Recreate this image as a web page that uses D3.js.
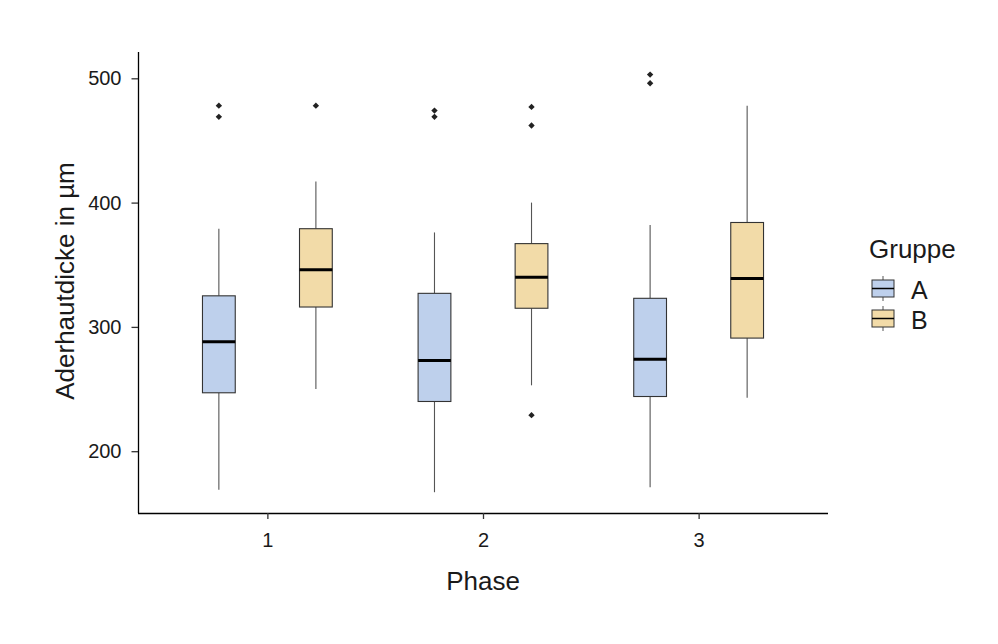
<!DOCTYPE html>
<html>
<head>
<meta charset="utf-8">
<script src="https://cdn.jsdelivr.net/npm/d3@7"></script>
<style>
  body { margin: 0; background: #fff; }
  text { font-family: "Liberation Sans", Arial, sans-serif; }
</style>
</head>
<body>
<div id="chart"></div>
<script>
// values
const phases = ['1', '2', '3'];
const groups = ['A', 'B'];
const colors = ['#bed0ec', '#f2dba8'];
const yTicks = [200, 300, 400, 500];

// [phase, group, lowerWhisker, q1, median, q3, upperWhisker]
const boxStats = [
	['1', 'A', 169, 247, 288, 325, 379],
	['1', 'B', 250, 316, 346, 379, 417],
	['2', 'A', 167, 240, 273, 327, 376],
	['2', 'B', 253, 315, 340, 367, 400],
	['3', 'A', 171, 244, 274, 323, 382],
	['3', 'B', 243, 291, 339, 384, 478]
];

// [phase, group, value]
const outliers = [
	['1', 'A', 478], ['1', 'A', 469],
	['1', 'B', 478],
	['2', 'A', 474], ['2', 'A', 469],
	['2', 'B', 477], ['2', 'B', 462], ['2', 'B', 229],
	['3', 'A', 503], ['3', 'A', 496]
];

const width = 998;
const height = 644;
const margin = { top: 52, right: 170, bottom: 131, left: 138 };

const svg = d3.select('#chart')
	.append('svg')
	.attr('width', width)
	.attr('height', height);

// discrete x axis, expanded by 0.6 units on each side
const innerW = width - margin.right - margin.left;
const unit = innerW / 3.2;
const xPos = d3.scalePoint()
	.domain(phases)
	.range([margin.left + 0.6 * unit, width - margin.right - 0.6 * unit]);

const dodge = d3.scaleOrdinal().domain(groups).range([-0.225, 0.225]);
const fill = d3.scaleOrdinal().domain(groups).range(colors);
const boxW = 0.152 * unit;

// 500 sits at 78.3 px, 100 units = 124.3 px
const y = d3.scaleLinear()
	.domain([500 + (78.3 - margin.top) / 1.243, 500 - (height - margin.bottom - 78.3) / 1.243])
	.range([margin.top, height - margin.bottom]);

const cx = (d) => xPos(d[0]) + dodge(d[1]) * unit;

const g = svg.append('g');

const box = g.selectAll('g.box')
	.data(boxStats)
	.join('g')
	.attr('class', 'box')
	.attr('transform', (d) => `translate(${cx(d)},0)`);

box.append('line')
	.attr('y1', (d) => y(d[2]))
	.attr('y2', (d) => y(d[3]))
	.attr('stroke', '#555')
	.attr('stroke-width', 1.1);

box.append('line')
	.attr('y1', (d) => y(d[5]))
	.attr('y2', (d) => y(d[6]))
	.attr('stroke', '#555')
	.attr('stroke-width', 1.1);

box.append('rect')
	.attr('x', -boxW / 2)
	.attr('width', boxW)
	.attr('y', (d) => y(d[5]))
	.attr('height', (d) => y(d[3]) - y(d[5]))
	.attr('fill', (d) => fill(d[1]))
	.attr('stroke', '#333')
	.attr('stroke-width', 1.1);

box.append('line')
	.attr('x1', -boxW / 2)
	.attr('x2', boxW / 2)
	.attr('y1', (d) => y(d[4]))
	.attr('y2', (d) => y(d[4]))
	.attr('stroke', '#000')
	.attr('stroke-width', 3);

// outliers as small diamonds
g.selectAll('path.out')
	.data(outliers)
	.join('path')
	.attr('class', 'out')
	.attr('d', d3.symbol(d3.symbolDiamond2, 26))
	.attr('transform', (d) => `translate(${cx(d)},${y(d[2])})`)
	.attr('fill', '#222');

// axes
const xAxis = svg.append('g')
	.attr('transform', `translate(0,${height - margin.bottom})`)
	.call(d3.axisBottom(xPos).tickSize(6).tickPadding(14).tickSizeOuter(0));

const yAxis = svg.append('g')
	.attr('transform', `translate(${margin.left},0)`)
	.call(d3.axisLeft(y).tickValues(yTicks).tickSize(6.5).tickPadding(10).tickSizeOuter(0));

[xAxis, yAxis].forEach((a) => {
	a.select('.domain').attr('stroke', '#000').attr('stroke-width', 1.3);
	a.selectAll('.tick line').attr('stroke', '#333').attr('stroke-width', 1.3);
	a.selectAll('.tick text')
		.attr('fill', '#1a1a1a')
		.style('font-size', '20px')
		.style('font-family', '"Liberation Sans", Arial, sans-serif');
});
xAxis.select('.domain').attr('d', `M${margin.left},0.5H${width - margin.right}`);
yAxis.select('.domain').attr('d', `M0.5,${margin.top}V${height - margin.bottom}`);

// axis titles
svg.append('text')
	.attr('x', xPos('2'))
	.attr('y', 590)
	.attr('text-anchor', 'middle')
	.style('font-size', '26px')
	.attr('fill', '#1a1a1a')
	.text('Phase');

svg.append('text')
	.attr('transform', 'translate(74,281) rotate(-90)')
	.attr('text-anchor', 'middle')
	.style('font-size', '26px')
	.attr('fill', '#1a1a1a')
	.text('Aderhautdicke in µm');

// legend
const legend = svg.append('g').attr('transform', 'translate(869,0)');
legend.append('text')
	.attr('x', 0)
	.attr('y', 258)
	.style('font-size', '26px')
	.attr('fill', '#1a1a1a')
	.text('Gruppe');

const item = legend.selectAll('g.item')
	.data(groups)
	.join('g')
	.attr('class', 'item')
	.attr('transform', (d, i) => `translate(3,${280 + i * 30})`);

item.append('line')
	.attr('x1', 11).attr('x2', 11)
	.attr('y1', -4).attr('y2', 21)
	.attr('stroke', '#555');
item.append('rect')
	.attr('x', 0).attr('y', 0)
	.attr('width', 22).attr('height', 17)
	.attr('fill', (d) => fill(d))
	.attr('stroke', '#333')
	.attr('stroke-width', 1);
item.append('line')
	.attr('x1', 0).attr('x2', 22)
	.attr('y1', 8.5).attr('y2', 8.5)
	.attr('stroke', '#000')
	.attr('stroke-width', 1.5);
item.append('text')
	.attr('x', 39)
	.attr('y', 19)
	.style('font-size', '25px')
	.attr('fill', '#1a1a1a')
	.text((d) => d);
</script>
</body>
</html>
